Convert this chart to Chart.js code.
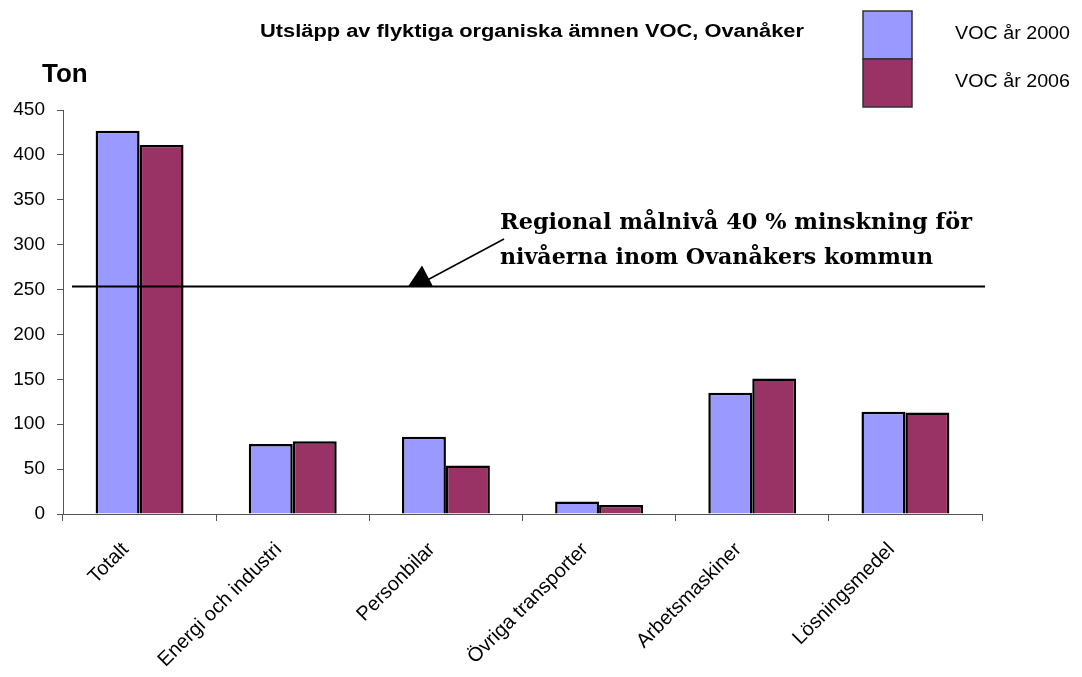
<!DOCTYPE html>
<html>
<head>
<meta charset="utf-8">
<script src="https://cdn.jsdelivr.net/npm/chart.js@4"></script>
<style>
  html, body { margin: 0; padding: 0; background: #fff; }
  #wrap { width: 1082px; height: 677px; position: relative; }
</style>
</head>
<body>
<div id="wrap"><canvas id="vocChart"></canvas></div>
<script>
const categories = ['Totalt', 'Energi och industri', 'Personbilar', 'Övriga transporter', 'Arbetsmaskiner', 'Lösningsmedel'];
const voc2000 = [427, 78, 86, 14, 135, 114];
const voc2006 = [411, 81, 54, 10, 151, 113];
const yTicks = [0, 50, 100, 150, 200, 250, 300, 350, 400, 450];
const targetLevel = 254;   // regional målnivå

const sans = '"Liberation Sans", Arial, sans-serif';
const serif = '"DejaVu Serif", "Liberation Serif", serif';

// draw text stretched horizontally to a given width (the original text is wide)
function fitText(c, text, x, y, width) {
    const w = c.measureText(text).width;
    c.save();
    c.translate(x, y);
    c.scale(width / w, 1);
    c.fillText(text, 0, 0);
    c.restore();
}

// title, "Ton", legend boxes, target line + arrow
const decorations = {
    id: 'decorations',
    afterDraw(chart) {
        const c = chart.ctx;
        const area = chart.chartArea;
        const y = chart.scales.y;
        c.save();

        c.fillStyle = '#000';
        c.textAlign = 'left';
        c.textBaseline = 'middle';
        c.font = 'bold 18px ' + sans;
        fitText(c, 'Utsläpp av flyktiga organiska ämnen VOC, Ovanåker', 260, 32, 544);

        c.textBaseline = 'alphabetic';
        c.font = 'bold 26px ' + sans;
        c.fillText('Ton', 42, 82);

        // legend
        chart.data.datasets.forEach((ds, i) => {
            const top = 11 + i * 48;
            c.fillStyle = ds.backgroundColor;
            c.fillRect(863, top, 49, 48);
            c.strokeStyle = '#333';
            c.lineWidth = 1.5;
            c.strokeRect(863, top, 49, 48);
            c.fillStyle = '#000';
            c.font = '18px ' + sans;
            c.textBaseline = 'middle';
            fitText(c, ds.label, 955, top + 23, 115);
        });

        // target line
        const ly = Math.round(y.getPixelForValue(targetLevel)) + 0.5;
        c.strokeStyle = '#000';
        c.lineWidth = 2;
        c.beginPath();
        c.moveTo(area.left + 9, ly);
        c.lineTo(area.right + 3, ly);
        c.stroke();

        // arrow
        c.lineWidth = 1.5;
        c.beginPath();
        c.moveTo(504, 239);
        c.lineTo(418, 285);
        c.stroke();
        c.beginPath();
        c.moveTo(408, ly);
        c.lineTo(422, ly - 21);
        c.lineTo(433, ly);
        c.closePath();
        c.fill();

        c.font = 'bold 23px ' + serif;
        c.textBaseline = 'alphabetic';
        fitText(c, 'Regional målnivå 40 % minskning för', 500, 229, 472);
        fitText(c, 'nivåerna inom Ovanåkers kommun', 500, 264, 433);

        c.restore();
    }
};

const ctx = document.getElementById('vocChart').getContext('2d');
const vocChart = new Chart(ctx, {
    type: 'bar',
    data: {
        labels: categories,
        datasets: [{
            label: 'VOC år 2000',
            data: voc2000,
            backgroundColor: '#9999FF',
            borderColor: '#000',
            borderWidth: 2.5
        }, {
            label: 'VOC år 2006',
            data: voc2006,
            backgroundColor: '#993366',
            borderColor: '#000',
            borderWidth: 2.5
        }]
    },
    options: {
        responsive: true,
        maintainAspectRatio: false,
        animation: false,
        layout: { padding: { top: 110, right: 100, left: 0, bottom: 0 } },
        datasets: { bar: { categoryPercentage: 0.574, barPercentage: 1.0 } },
        plugins: {
            legend: { display: false },
            tooltip: { enabled: false },
            title: { display: false }
        },
        scales: {
            y: {
                min: 0,
                max: 450,
                afterFit: s => { s.width = 63; },
                afterBuildTicks: s => { s.ticks = yTicks.map(v => ({ value: v })); },
                ticks: { color: '#000', font: { size: 19, family: sans }, padding: 12 },
                grid: { drawOnChartArea: false, tickLength: 6, color: '#555' },
                border: { display: true, color: '#555', width: 1 }
            },
            x: {
                afterFit: s => { s.height = 163; },
                ticks: {
                    color: '#000',
                    font: { size: 20, family: sans },
                    minRotation: 45,
                    maxRotation: 45,
                    autoSkip: false,
                    labelOffset: -14,
                    padding: 17
                },
                grid: { drawOnChartArea: false, offset: true, tickLength: 7, color: '#555' },
                border: { display: true, color: '#555', width: 1 }
            }
        }
    },
    plugins: [decorations]
});
</script>
</body>
</html>
